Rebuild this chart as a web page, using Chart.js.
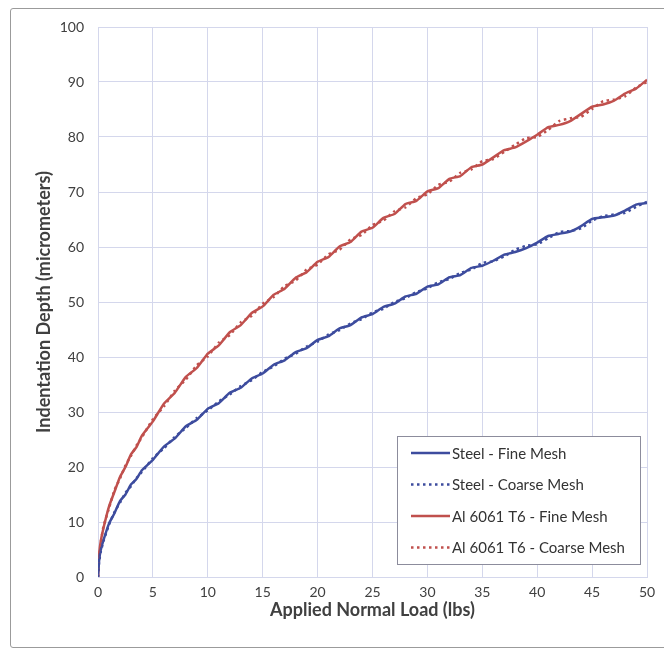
<!DOCTYPE html>
<html>
<head>
<meta charset="utf-8">
<script src="https://cdn.jsdelivr.net/npm/chart.js@4.4.1/dist/chart.umd.min.js"></script>
<style>
  html, body { margin: 0; padding: 0; background: #fff; }
  #wrap { position: relative; width: 664px; height: 650px; overflow: hidden; }
  #frame {
    position: absolute; left: 10px; top: 8px; width: 680px; height: 638px;
    border: 1.5px solid #9b9b9b; border-radius: 3px;
  }
  canvas { position: absolute; left: 0; top: 0; }
</style>
</head>
<body>
<div id="wrap">
  <div id="frame"></div>
  <canvas id="chart" width="664" height="650"></canvas>
</div>
<script>
// Applied normal load (lbs), shared by all four series
var loads = [0, 0.1, 0.25, 0.5, 1, 1.5, 2, 2.5, 3, 3.5, 4,
  5, 6, 7, 8, 9, 10, 11, 12, 13, 14, 15, 16, 17, 18, 19, 20,
  21, 22, 23, 24, 25, 26, 27, 28, 29, 30, 31, 32, 33, 34, 35,
  36, 37, 38, 39, 40, 41, 42, 43, 44, 45, 46, 47, 48, 49, 50];

// Indentation depth (micrometers)
var steelFine = [0, 3.0, 4.9, 6.7, 9.7, 11.6, 13.8, 15.0, 16.8, 17.8, 19.4,
  21.3, 23.7, 25.2, 27.4, 28.6, 30.6, 31.6, 33.5, 34.4, 36.1, 37.0, 38.6, 39.4, 40.9, 41.6, 43.1,
  43.8, 45.2, 45.8, 47.2, 47.8, 49.1, 49.7, 51.0, 51.5, 52.8, 53.2, 54.5, 54.9, 56.2, 56.6,
  57.5, 58.6, 59.1, 59.8, 60.8, 62.0, 62.4, 62.8, 63.8, 65.1, 65.4, 65.7, 66.6, 67.7, 68.0];

var steelCoarse = [0, 2.7, 4.6, 6.5, 9.5, 11.8, 13.5, 15.3, 16.5, 18.0, 19.1,
  21.6, 23.4, 25.5, 27.1, 28.9, 30.3, 31.9, 33.2, 34.7, 35.8, 37.3, 38.3, 39.7, 40.6, 41.9, 42.8,
  44.1, 44.9, 46.1, 46.9, 48.1, 48.8, 50.0, 50.7, 51.8, 52.5, 53.6, 54.2, 55.3, 55.9, 57.1,
  57.4, 58.3, 59.5, 60.2, 60.5, 61.6, 62.7, 62.9, 63.4, 64.8, 65.6, 65.9, 66.2, 67.3, 68.2];

var alFine = [0, 4.0, 6.5, 8.9, 12.8, 15.5, 18.2, 20.0, 22.3, 23.6, 25.7,
  28.3, 31.5, 33.5, 36.4, 38.0, 40.6, 42.1, 44.5, 45.8, 48.0, 49.2, 51.3, 52.4, 54.4, 55.4, 57.3,
  58.2, 60.1, 60.9, 62.8, 63.5, 65.3, 66.0, 67.8, 68.4, 70.1, 70.7, 72.4, 72.9, 74.5, 75.0,
  76.3, 77.6, 78.1, 79.2, 80.4, 81.8, 82.2, 82.9, 84.2, 85.5, 85.9, 86.6, 87.9, 88.8, 90.4];

var alCoarse = [0, 3.6, 6.2, 9.2, 12.5, 15.8, 17.9, 20.3, 22.0, 23.9, 25.4,
  28.7, 31.0, 33.9, 35.9, 38.5, 40.1, 42.6, 44.0, 46.3, 47.5, 49.7, 50.9, 52.9, 53.9, 55.9, 56.8,
  58.7, 59.5, 61.4, 62.2, 64.0, 64.8, 66.5, 67.2, 68.9, 69.6, 71.3, 71.9, 73.5, 74.1, 75.6,
  76.0, 77.3, 78.6, 79.8, 80.0, 81.3, 82.9, 83.4, 83.7, 85.1, 86.5, 86.8, 87.4, 89.0, 90.0];

var seriesLabels = ["Steel - Fine Mesh", "Steel - Coarse Mesh", "Al 6061 T6 - Fine Mesh", "Al 6061 T6 - Coarse Mesh"];
var xTicks = [0, 5, 10, 15, 20, 25, 30, 35, 40, 45, 50];
var yTicks = [0, 10, 20, 30, 40, 50, 60, 70, 80, 90, 100];

(function () {
    "use strict";

    var BLUE = "#3d4c9e";
    var RED = "#c0504d";
    var GRID = "#d4d7ec";
    var TEXT = "#404040";

    function points(ys) {
        return loads.map(function (x, i) { return {x: x, y: ys[i]}; });
    }

    // Legend box drawn inside the plot, lower right
    var boxLegend = {
        id: "boxLegend",
        afterDraw: function (chart) {
            var ctx = chart.ctx;
            var left = 397, top = 436, w = 243, h = 128;
            ctx.save();
            ctx.fillStyle = "#fff";
            ctx.fillRect(left, top, w, h);
            ctx.strokeStyle = "#8c8c9c";
            ctx.lineWidth = 1;
            ctx.strokeRect(left + 0.5, top + 0.5, w, h);
            ctx.font = "15px Lato";
            ctx.textBaseline = "middle";
            chart.data.datasets.forEach(function (ds, i) {
                var y = top + 17 + i * 31.5;
                ctx.beginPath();
                ctx.strokeStyle = ds.borderColor;
                ctx.lineWidth = ds.borderWidth;
                ctx.setLineDash(ds.borderDash || []);
                ctx.moveTo(411, y);
                ctx.lineTo(450, y);
                ctx.stroke();
                ctx.setLineDash([]);
                ctx.fillStyle = "#333";
                ctx.fillText(ds.label, 452, y + 1);
            });
            ctx.restore();
        }
    };

    var ctx = document.getElementById("chart").getContext("2d");
    var myChart = new Chart(ctx, {
        type: "line",
        data: {
            datasets: [{
                label: seriesLabels[0],
                data: points(steelFine),
                borderColor: BLUE,
                borderWidth: 2.5,
                order: 1
            }, {
                label: seriesLabels[1],
                data: points(steelCoarse),
                borderColor: BLUE,
                borderWidth: 2.5,
                borderDash: [2.5, 3.5],
                order: 0
            }, {
                label: seriesLabels[2],
                data: points(alFine),
                borderColor: RED,
                borderWidth: 2.5,
                order: 1
            }, {
                label: seriesLabels[3],
                data: points(alCoarse),
                borderColor: RED,
                borderWidth: 2.5,
                borderDash: [2.5, 3.5],
                order: 0
            }]
        },
        options: {
            responsive: false,
            animation: false,
            events: [],
            layout: {padding: {left: 29, right: 17, top: 27, bottom: 25}},
            elements: {
                point: {radius: 0},
                line: {tension: 0.15, fill: false}
            },
            plugins: {
                legend: {display: false},
                tooltip: {enabled: false}
            },
            scales: {
                x: {
                    type: "linear",
                    min: 0,
                    max: 50,
                    afterBuildTicks: function (axis) {
                        axis.ticks = xTicks.map(function (v) { return {value: v}; });
                    },
                    afterFit: function (axis) { axis.height = 48; },
                    grid: {color: GRID, drawTicks: false},
                    border: {color: GRID},
                    ticks: {color: TEXT, padding: 7, font: {family: "Lato", size: 14}},
                    title: {
                        display: true,
                        text: "Applied Normal Load (lbs)",
                        color: TEXT,
                        font: {family: "Lato", size: 18, weight: "bold"}
                    }
                },
                y: {
                    min: 0,
                    max: 100,
                    afterBuildTicks: function (axis) {
                        axis.ticks = yTicks.map(function (v) { return {value: v}; });
                    },
                    afterFit: function (axis) { axis.width = 69; },
                    grid: {color: GRID, drawTicks: false},
                    border: {color: GRID},
                    ticks: {color: TEXT, padding: 14, font: {family: "Lato", size: 14}},
                    title: {
                        display: true,
                        text: "Indentation Depth (micrometers)",
                        color: TEXT,
                        font: {family: "Lato", size: 18, weight: "bold"}
                    }
                }
            }
        },
        plugins: [boxLegend]
    });
})();
</script>
</body>
</html>
